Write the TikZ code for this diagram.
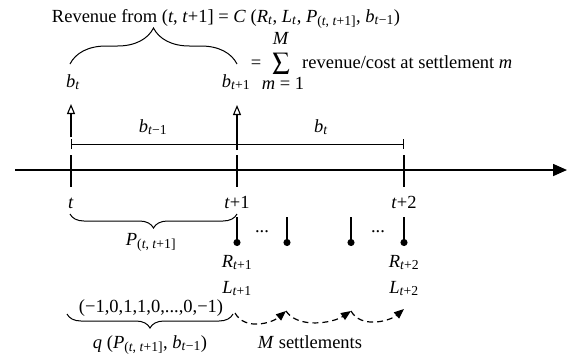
\documentclass[tikz,border=0pt]{standalone}
\usepackage{mathptmx}
\usepackage[no-math]{fontspec}
\setmainfont{Liberation Serif}
\usetikzlibrary{arrows.meta,positioning,decorations.pathreplacing,calc}

\newcommand{\tv}[1]{\textit{#1}}
\newcommand{\sbt}[1]{\textsubscript{#1}}

\begin{document}
\begin{tikzpicture}[
    x=1pt, y=-1pt,
    font=\fontsize{18.5}{22}\selectfont,
    lbl/.style={inner sep=0pt, anchor=base},
    tick/.style={line width=1.6pt},
    axisline/.style={line width=1.6pt, -{Triangle[length=14pt,width=12pt]}},
    dimline/.style={line width=0.9pt, {Bar[width=10pt]}-{Bar[width=10pt]}},
    uparrow/.style={line width=1.2pt, -{Triangle[open,length=10pt,width=8pt,line width=1.1pt]}},
    stem/.style={line width=1.2pt, -{Circle[length=7pt]}},
    hop/.style={line width=1.2pt, dash pattern=on 6pt off 4pt, -{Triangle[length=10pt,width=8pt]}},
    brc/.style={line width=1pt, decorate, decoration={brace, amplitude=#1}}
  ]
    \useasboundingbox (0,0) rectangle (569,360);

    % time axis with the three periods
    \coordinate (a0) at (15,170);
    \coordinate (a1) at (567,170);
    \draw[axisline] (a0) -- (a1);
    \coordinate (p0) at (71,170);
    \coordinate (p1) at (237,170);
    \coordinate (p2) at (404,170);
    \foreach \p in {p0,p1,p2}
      \draw[tick] ($(\p)+(0,-15)$) -- ($(\p)+(0,17)$);
    \node[lbl] (lt0) at (71,208) {\tv{t}};
    \node[lbl] (lt1) at (237,208) {\tv{t}+1};
    \node[lbl] (lt2) at (404,208) {\tv{t}+2};

    % bids
    \coordinate (d0) at (71,144);
    \coordinate (d1) at (237,144);
    \coordinate (d2) at (404,144);
    \draw[dimline] (d0) -- (d1);
    \draw[dimline] (d1) -- (d2);
    \node[lbl] (bprev) at (153,132) {\tv{b}\sbt{\tv{t}−1}};
    \node[lbl] (bcur) at (321,132) {\tv{b}\sbt{\tv{t}}};

    \node[lbl] (bt) at (73,87) {\tv{b}\sbt{\tv{t}}};
    \node[lbl] (bt1) at (236,87) {\tv{b}\sbt{\tv{t}+1}};
    \draw[uparrow] (71,137) -- (71,104);
    \draw[uparrow] (237,150) -- (237,105);
    \draw[brc=36pt] (70,64) -- (237,64);

    \node[lbl] (rev) at (226,22)
      {Revenue from (\tv{t}, \tv{t}+1] = \tv{C} (\tv{R}\sbt{\tv{t}}, \tv{L}\sbt{\tv{t}},
       \tv{P}\sbt{(\tv{t}, \tv{t}+1]}, \tv{b}\sbt{\tv{t}−1})};
    \node[lbl] (eq) at (256,68) {=};
    \node[lbl, font=\fontsize{17}{18}\selectfont] (sig) at (281,68) {$\displaystyle\sum$};
    \node[lbl] (supM) at (281,44) {\tv{M}};
    \node[lbl] (subm) at (283,89) {\tv{m} = 1};
    \node[lbl, anchor=base west] (rc) at (302,68) {revenue/cost at settlement \tv{m}};

    % settlements
    \foreach \x in {237,287,351,404}
      \draw[stem] (\x,217) -- (\x,246);
    \node[lbl] (dots1) at (262,232) {...};
    \node[lbl] (dots2) at (378,232) {...};
    \draw[brc=14pt] (237,214) -- (70,214);
    \node[lbl] (price) at (151,245) {\tv{P}\sbt{(\tv{t}, \tv{t}+1]}};

    \node[lbl] (r1) at (237,267) {\tv{R}\sbt{\tv{t}+1}};
    \node[lbl] (l1) at (237,293) {\tv{L}\sbt{\tv{t}+1}};
    \node[lbl] (r2) at (404,267) {\tv{R}\sbt{\tv{t}+2}};
    \node[lbl] (l2) at (404,293) {\tv{L}\sbt{\tv{t}+2}};

    \node[lbl] (vec) at (151,312) {(−1,0,1,1,0,...,0,−1)};
    \draw[brc=14pt] (233,314) -- (67,314);
    \node[lbl] (qlab) at (150,348)
      {\tv{q} (\tv{P}\sbt{(\tv{t}, \tv{t}+1]}, \tv{b}\sbt{\tv{t}−1})};

    \coordinate (h0) at (235,313);
    \coordinate (h1) at (286,311);
    \coordinate (h2) at (351,311);
    \coordinate (h3) at (404,309);
    \draw[hop] (h0) .. controls +(10,18) and +(-14,12) .. (h1);
    \draw[hop] (h1) .. controls +(12,18) and +(-18,12) .. (h2);
    \draw[hop] (h2) .. controls +(10,18) and +(-14,12) .. (h3);
    \node[lbl] (mset) at (310,348) {\tv{M} settlements};
  \end{tikzpicture}
\end{document}
